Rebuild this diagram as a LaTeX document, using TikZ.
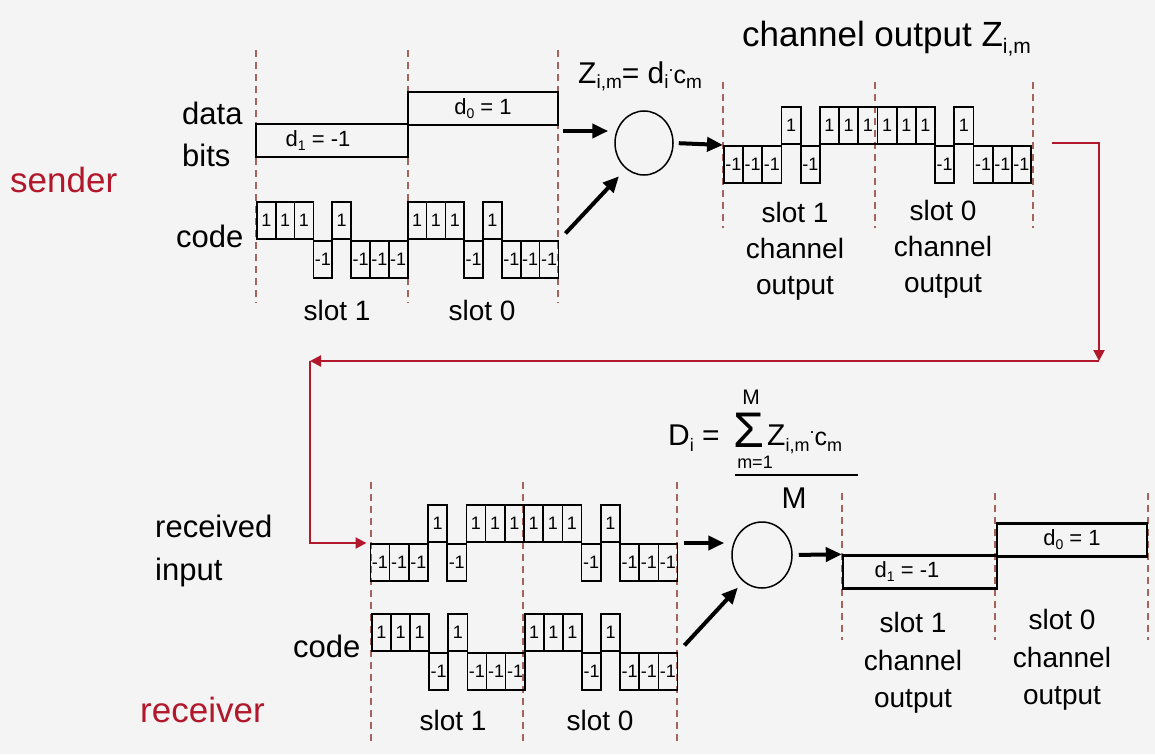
\documentclass[tikz,border=0pt]{standalone}
\usepackage{fontspec}
\setmainfont{Liberation Sans}
\usetikzlibrary{arrows.meta,shapes.geometric}
\definecolor{bg}{RGB}{244,244,244}
\definecolor{darkred}{RGB}{178,24,43}
\definecolor{dashc}{RGB}{165,100,90}
\newcommand{\fs}[1]{\fontsize{#1}{#1}\selectfont}
\newcommand{\lowtext}[3]{\raisebox{-#1pt}{\fontsize{#2}{#2}\selectfont #3}}
\newcommand{\wave}[6]{%
  \foreach \v [count=\k from 0] in {#6} {%
    \ifnum\v>0 \def\anc{south west}\else\def\anc{north west}\fi
    \node[chip, minimum width=#4pt, minimum height=#5pt, anchor=\anc] (#1-\k) at ({#2+\k*#4},#3) {\v};
  }}
\begin{document}
\begin{tikzpicture}[x=1pt,y=-1pt,
  chip/.style={draw, line width=1.7pt, inner sep=0pt, font=\fs{18}},
  databox/.style={draw, line width=2.4pt, inner sep=0pt, minimum width=152pt, minimum height=33pt, font=\fs{22}},
  bigarrow/.style={line width=4pt, -{Triangle[length=16pt,width=14pt]}},
  redarrow/.style={draw=darkred, line width=2.2pt, -{Triangle[length=11pt,width=11pt]}},
  slotline/.style={draw=dashc, line width=1.4pt, dash pattern=on 7pt off 5pt},
  lbl/.style={inner sep=0pt, anchor=base west, font=\fs{31}},
  slotlbl/.style={inner sep=0pt, align=center, font=\fontsize{28}{36}\selectfont},
  mult/.style={ellipse, draw, line width=1.5pt, inner sep=0pt},
  txt/.style={inner sep=0pt}]

\fill[bg] (0,0) rectangle (1155,754);
\useasboundingbox (0,0) rectangle (1155,754);

% slot boundaries
\foreach \x in {256,408,558} \draw[slotline] (\x,50) -- (\x,303);
\foreach \x in {723,875,1033} \draw[slotline] (\x,82) -- (\x,228);
\foreach \x in {371,523,677} \draw[slotline] (\x,482) -- (\x,745);
\foreach \x in {842,995,1148} \draw[slotline] (\x,493) -- (\x,640);

% data bits
\node[databox] (d1s) at (332,140.5) {d\lowtext{4}{14}{1} = -1\hspace*{28pt}};
\node[databox, minimum width=150pt] (d0s) at (483,108.5) {d\lowtext{4}{14}{0} = 1};
\node[databox, minimum width=154pt] (d1r) at (920,572) {d\lowtext{4}{14}{1} = -1\hspace*{26pt}};
\node[databox, minimum width=150pt] (d0r) at (1072,540) {d\lowtext{4}{14}{0} = 1};

% chip waveforms
\wave{sc}{256}{240}{18.85}{37}{1,1,1,-1,1,-1,-1,-1,1,1,1,-1,1,-1,-1,-1}
\wave{ch}{723}{145}{19.2}{37}{-1,-1,-1,1,-1,1,1,1,1,1,1,-1,1,-1,-1,-1}
\wave{rx}{369.5}{543}{19.2}{37}{-1,-1,-1,1,-1,1,1,1,1,1,1,-1,1,-1,-1,-1}
\wave{rc}{371}{652}{19.1}{37}{1,1,1,-1,1,-1,-1,-1,1,1,1,-1,1,-1,-1,-1}

% multipliers
\node[mult, minimum width=58pt, minimum height=64pt] (mul1) at (644,143) {};
\node[mult, minimum width=60pt, minimum height=66pt] (mul2) at (762,555) {};

% black arrows
\coordinate (a1s) at (563,131);
\draw[bigarrow, shorten >=6pt] (a1s) -- (a1s -| mul1.west);
\draw[bigarrow, shorten <=9pt, shorten >=10pt] (sc-15.north east) -- (mul1.235);
\draw[bigarrow, shorten <=5pt] (mul1.east) -- (ch-0.north west);
\draw[bigarrow, shorten <=6pt, shorten >=7pt] (rx-15.north east) -- (rx-15.north east -| mul2.west);
\draw[bigarrow, shorten <=9pt, shorten >=8pt] (rc-15.north east) -- (mul2.235);
\draw[bigarrow, shorten <=6pt] (mul2.east) -- (d1r.north west);

% red transfer path
\coordinate (rc1) at (1099,361);
\coordinate (rc2) at (310,361);
\draw[redarrow] ([shift={(20,-2)}]ch-15.north east) -| (rc1);
\draw[redarrow] (rc1) -- (rc2);
\draw[redarrow, shorten >=3pt] (rc2) |- (rx-0.north west);

% formula 1
\node[txt, anchor=base west, font=\fs{30}] (f1) at (578,84)
  {Z\lowtext{5}{19}{i,m}= d\lowtext{5}{19}{i}\raisebox{12pt}{\fs{18}.}{\fs{25}c}\lowtext{5}{19}{m}};

% title
\node[txt, anchor=base west, font=\fs{35}] (title) at (742,47) {channel output Z\lowtext{7}{21}{i,m}};

% formula 2
\node[txt, anchor=base west, font=\fs{30}] (f2a) at (668,445) {D\lowtext{6}{18}{i} =};
\node[txt, anchor=base, font=\fs{50}] (f2sig) at (749,447) {Σ};
\node[txt, font=\fs{21}] (f2top) at (751,397) {M};
\node[txt, font=\fs{18}] (f2low) at (755,462) {m=1};
\node[txt, anchor=base west, font=\fs{30}] (f2z) at (767,445)
  {Z\lowtext{6}{18}{i,m}\raisebox{12pt}{\fs{18}.}{\fs{25}c}\lowtext{6}{18}{m}};
\draw[line width=2pt] (735,475) -- (858,475);
\node[txt, font=\fs{30}] (f2bot) at (794,498) {M};

% labels
\node[lbl, font=\fs{35}, text=darkred] (sender) at (10,193) {sender};
\node[lbl] (data) at (182,125) {data};
\node[lbl] (bits) at (182,167) {bits};
\node[lbl] (code1) at (176,247) {code};
\node[lbl] (recv) at (155,537) {received};
\node[lbl] (inp) at (155,580) {input};
\node[lbl] (code2) at (293,657) {code};
\node[lbl, font=\fs{35}, text=darkred] (receiver) at (140,722) {receiver};

% slot labels
\node[txt, font=\fs{28}] (ss1) at (337,310) {slot 1};
\node[txt, font=\fs{28}] (ss0) at (482,310) {slot 0};
\node[slotlbl] (cs1) at (795,251) {slot 1\\channel\\output};
\node[slotlbl] (cs0) at (943,249) {slot 0\\channel\\output};
\node[txt, font=\fs{28}] (rs1) at (453,720) {slot 1};
\node[txt, font=\fs{28}] (rs0) at (600,720) {slot 0};
\node[slotlbl, font=\fontsize{28}{37.5}\selectfont] (os1) at (913,663) {slot 1\\channel\\output};
\node[slotlbl, font=\fontsize{28}{37.5}\selectfont] (os0) at (1062,660) {slot 0\\channel\\output};
\end{tikzpicture}
\end{document}
